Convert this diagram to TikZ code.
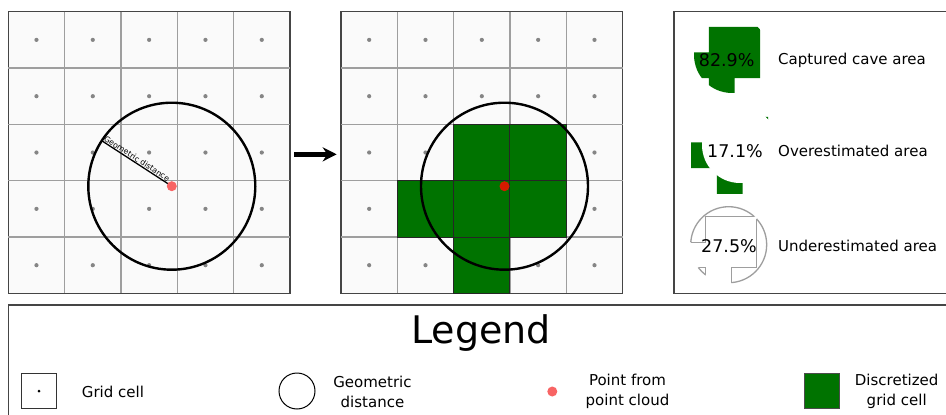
\documentclass[tikz,border=0pt]{standalone}
\usepackage{fontspec}
\setmainfont{DejaVu Sans}
\usepackage{xcolor}
\usepackage{tikz}
\usetikzlibrary{arrows.meta, positioning, calc}

\definecolor{cellbg}{HTML}{FAFAFA}
\definecolor{gridgray}{HTML}{9E9E9E}
\definecolor{dotgray}{HTML}{858585}
\definecolor{framegray}{HTML}{454545}
\definecolor{cavegreen}{RGB}{0,115,0}
\definecolor{pointred}{HTML}{F86464}
\definecolor{darkred}{HTML}{D61A00}

\newcommand\cw{56.33}
\newcommand\greenpoly{({2*\cw},{2*\cw}) -- ({4*\cw},{2*\cw}) -- ({4*\cw},{4*\cw}) -- ({3*\cw},{4*\cw}) -- ({3*\cw},{5*\cw}) -- ({2*\cw},{5*\cw}) -- ({2*\cw},{4*\cw}) -- ({\cw},{4*\cw}) -- ({\cw},{3*\cw}) -- ({2*\cw},{3*\cw}) -- cycle}
\newcommand\greenpolyrev{({2*\cw},{2*\cw}) -- ({2*\cw},{3*\cw}) -- ({\cw},{3*\cw}) -- ({\cw},{4*\cw}) -- ({2*\cw},{4*\cw}) -- ({2*\cw},{5*\cw}) -- ({3*\cw},{5*\cw}) -- ({3*\cw},{4*\cw}) -- ({4*\cw},{4*\cw}) -- ({4*\cw},{2*\cw}) -- cycle}

\begin{document}
\begin{tikzpicture}[
    x=1pt, y=-1pt,
    boxframe/.style={draw=framegray,line width=1.3pt,inner sep=0pt,outer sep=0pt},
    gridbox/.style={boxframe,fill=cellbg,minimum size=281.7pt},
    gridline/.style={draw=gridgray,line width=1.1pt},
    griddot/.style={fill=dotgray},
    cavecell/.style={fill=cavegreen,draw=black!85,line width=1pt},
    bigring/.style={circle,draw=black,line width=2.4pt,minimum size=167pt,inner sep=0pt,outer sep=0pt},
    cloudpt/.style={circle,fill=pointred,minimum size=10pt,inner sep=0pt},
    underline/.style={draw=gridgray,line width=1.3pt},
    legtext/.style={font=\fontsize{15}{20}\selectfont,align=center,inner sep=0pt},
    pct/.style={font=\fontsize{17.5}{20}\selectfont,inner sep=0pt},
    flow/.style={-{Stealth[length=14pt,width=14pt]},line width=4.5pt}
]
\useasboundingbox (0,0) rectangle (946,415);
\fill[white] (0,0) rectangle (946,415);
\clip (0,0) rectangle (946,415);

%--------------------------------------------------------------------
% Left: point cloud with geometric distance
%--------------------------------------------------------------------
\node[gridbox,anchor=north west] (gridL) at (8.3,11.7) {};
\begin{scope}[shift={(gridL.north west)}]
  \foreach \k in {1,...,4} {
    \draw[gridline] ({\k*\cw},0) -- ({\k*\cw},{5*\cw});
    \draw[gridline] (0,{\k*\cw}) -- ({5*\cw},{\k*\cw});
  }
  \foreach \i in {0,...,4}
    \foreach \j in {0,...,4}
      \fill[griddot] ({(\i+0.5)*\cw},{(\j+0.5)*\cw}) circle (2.1pt);
  \coordinate (cL) at (163.5,174.5);
\end{scope}

\node[bigring] (circL) at (cL) {};
\draw[line width=1.3pt] (circL.147.5) -- (cL)
    node[pos=0.47,above=0.5pt,sloped,font=\fontsize{7.8}{8}\selectfont,inner sep=0pt] {Geometric distance};
\node[cloudpt] (ptL) at (cL) {};

%--------------------------------------------------------------------
% Middle: discretized grid cells
%--------------------------------------------------------------------
\node[gridbox,anchor=north west] (gridM) at (341,11.7) {};
\begin{scope}[shift={(gridM.north west)}]
  \foreach \k in {1,...,4} {
    \draw[gridline] ({\k*\cw},0) -- ({\k*\cw},{5*\cw});
    \draw[gridline] (0,{\k*\cw}) -- ({5*\cw},{\k*\cw});
  }
  \foreach \i in {0,...,4}
    \foreach \j in {0,...,4}
      \fill[griddot] ({(\i+0.5)*\cw},{(\j+0.5)*\cw}) circle (2.1pt);
  % cells taken over by the point
  \foreach \i/\j in {2/2,3/2,1/3,2/3,3/3,2/4}
    \draw[cavecell] ({\i*\cw},{\j*\cw}) rectangle ++(\cw,\cw);
  \coordinate (cM) at (163.5,174.5);
\end{scope}

\node[bigring] (circM) at (cM) {};
\node[cloudpt,fill=darkred] (ptM) at (cM) {};

\draw[flow,shorten <=4pt,shorten >=4.3pt]
    ([yshift=-1.8pt]gridL.east) -- ([yshift=-1.8pt]gridM.west);

%--------------------------------------------------------------------
% Right: area comparison
%--------------------------------------------------------------------
\node[boxframe,anchor=north west,minimum width=300pt,minimum height=281.7pt] (panelR) at (674,11.7) {};

% captured
\begin{scope}[shift={(732,55)},scale=0.455]
  \begin{scope}[shift={(-163.5,-174.5)}]
    \clip (163.5,174.5) circle (83.5pt);
    \fill[cavegreen] \greenpoly;
  \end{scope}
\end{scope}

% overestimated
\begin{scope}[shift={(740,145)},scale=0.455]
  \begin{scope}[shift={(-163.5,-174.5)}]
    \fill[cavegreen] \greenpoly;
    \fill[white] (163.5,174.5) circle (83.5pt);
  \end{scope}
\end{scope}

% underestimated
\begin{scope}[shift={(728.7,244.7)},scale=0.455]
  \begin{scope}[shift={(-163.5,-174.5)}]
    \begin{scope}
      \clip (163.5,174.5) circle (83.5pt);
      \draw[underline] \greenpoly;
    \end{scope}
    \begin{scope}
      \clip (-100,-100) -- (400,-100) -- (400,400) -- (-100,400) -- cycle \greenpolyrev;
      \draw[underline] (163.5,174.5) circle (83.5pt);
    \end{scope}
  \end{scope}
\end{scope}

\node[pct] (pctcapt) at (726.7,60) {82.9\%};
\node[pct] (pctover) at (735,151) {17.1\%};
\node[pct] (pctunder) at (729,246) {27.5\%};

\node[legtext,anchor=west] (capt) at (778,60) {Captured cave area};
\node[legtext,anchor=west] (over) at (778,151) {Overestimated area};
\node[legtext,anchor=west] (under) at (778,246) {Underestimated area};

%--------------------------------------------------------------------
% Legend
%--------------------------------------------------------------------
\node[boxframe,anchor=north west,minimum width=960pt,minimum height=130pt] (legendbox) at (8.3,305) {};
\node[font=\fontsize{38}{40}\selectfont,inner sep=0pt] (legtitle) at (481,333) {Legend};

\node[draw=black!80,line width=0.8pt,minimum size=35pt,inner sep=0pt] (keycell) at (39,391) {};
\node[circle,fill=black,minimum size=3pt,inner sep=0pt] (keydot) at (keycell) {};
\node[legtext,anchor=west] (keycelltxt) at (81.7,391.5) {Grid cell};

\node[circle,draw=black,line width=1pt,minimum size=36pt,inner sep=0pt] (keyring) at (297,391) {};
\node[legtext] (keyringtxt) at (372.5,391.7) {Geometric\\distance};

\node[cloudpt] (keypt) at (552.3,391.5) {};
\node[legtext] (keypttxt) at (627.5,391.2) {Point from\\point cloud};

\node[fill=cavegreen,draw=black!70,line width=0.8pt,minimum size=35pt,inner sep=0pt] (keygreen) at (821.8,390.8) {};
\node[legtext] (keygreentxt) at (896.7,391.2) {Discretized\\grid cell};

\end{tikzpicture}
\end{document}
